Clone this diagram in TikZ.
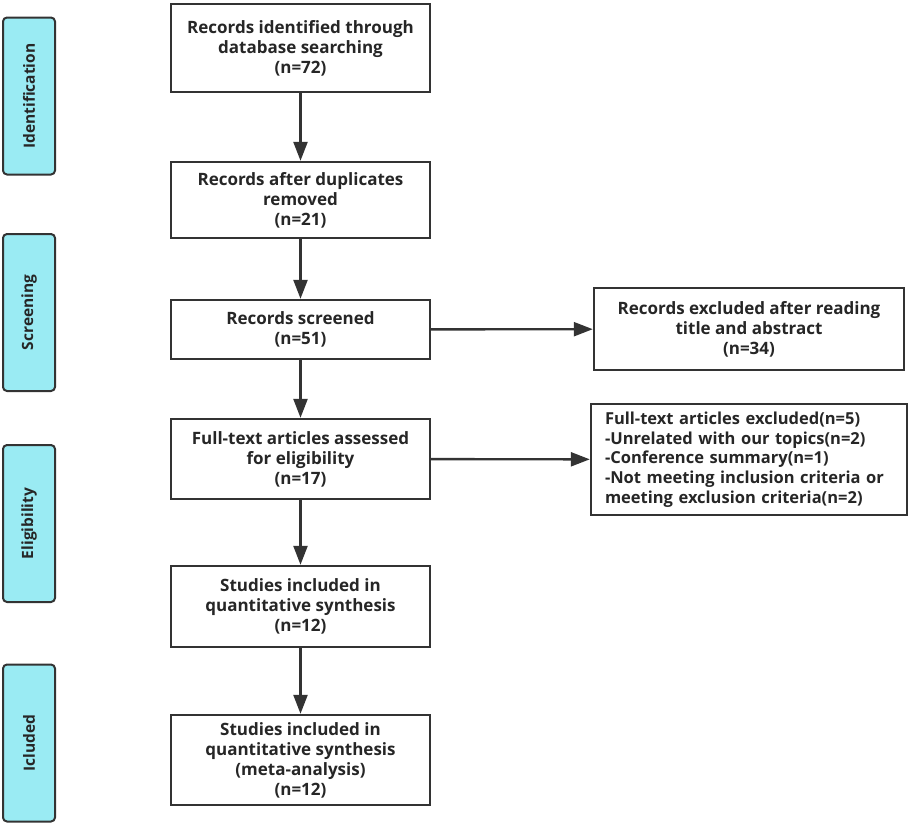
\documentclass[tikz,border=0pt]{standalone}
\usepackage{fontspec}
\setmainfont{Open Sans}
\usetikzlibrary{arrows.meta}
\definecolor{ln}{HTML}{333333}
\definecolor{tx}{HTML}{262626}
\definecolor{side}{HTML}{9AEBF3}
\begin{document}
\begin{tikzpicture}[x=1pt,y=-1pt,
  box/.style={draw=ln,line width=2.4pt,fill=white,align=center,inner sep=0pt,
    font=\fontsize{17}{20}\selectfont\bfseries,text=tx},
  sidebox/.style={draw=ln,line width=2pt,fill=side,rounded corners=4pt,inner sep=0pt,
    minimum width=52pt,minimum height=157pt},
  sidetext/.style={rotate=90,font=\fontsize{15.5}{18}\selectfont\bfseries,text=tx},
  arr/.style={draw=ln,line width=2.4pt,-{Triangle[length=19pt,width=14pt]}}]
\useasboundingbox (0,0) rectangle (913,825);
% side labels
\node[sidebox] (s1) at (29,96) {};
\node[sidetext] (t1) at (s1) {Identification};
\node[sidebox] (s2) at (29,312.5) {};
\node[sidetext] (t2) at (s2) {Screening};
\node[sidebox] (s3) at (29,523.5) {};
\node[sidetext] (t3) at (s3) {Eligibility};
\node[sidebox] (s4) at (29,743) {};
\node[sidetext] (t4) at (s4) {Icluded};
% main boxes
\node[box,minimum width=259pt,minimum height=88pt] (b1) at (300.5,48) {Records identified through\\database searching\\(n=72)};
\node[box,minimum width=259pt,minimum height=76pt] (b2) at (300.5,200) {Records after duplicates\\removed\\(n=21)};
\node[box,minimum width=259pt,minimum height=59pt] (b3) at (300.5,329.5) {Records screened\\(n=51)};
\node[box,minimum width=259pt,minimum height=80pt] (b4) at (300.5,459) {Full-text articles assessed\\for eligibility\\(n=17)};
\node[box,minimum width=259pt,minimum height=81pt] (b5) at (300.5,606.5) {Studies included in\\quantitative synthesis\\(n=12)};
\node[box,minimum width=259pt,minimum height=90pt] (b6) at (300.5,760) {Studies included in\\quantitative synthesis\\(meta-analysis)\\(n=12)};
\node[box,minimum width=310pt,minimum height=82pt] (ba) at (749,329) {Records excluded after reading\\title and abstract\\(n=34)};
\node[box,minimum width=316pt,minimum height=111pt,align=left,text width=288pt,font=\fontsize{16.5}{19.7}\selectfont\bfseries] (bb) at (749,459.5) {Full-text articles excluded(n=5)\\-Unrelated with our topics(n=2)\\-Conference summary(n=1)\\-Not meeting inclusion criteria or\\meeting exclusion criteria(n=2)};
% connectors
\draw[arr] (b1) -- (b2);
\draw[arr] (b2) -- (b3);
\draw[arr] (b3) -- (b4);
\draw[arr] (b4) -- (b5);
\draw[arr] (b5) -- (b6);
\draw[arr] (b3) -- (ba);
\draw[arr] (b4) -- (bb);
\end{tikzpicture}
\end{document}
